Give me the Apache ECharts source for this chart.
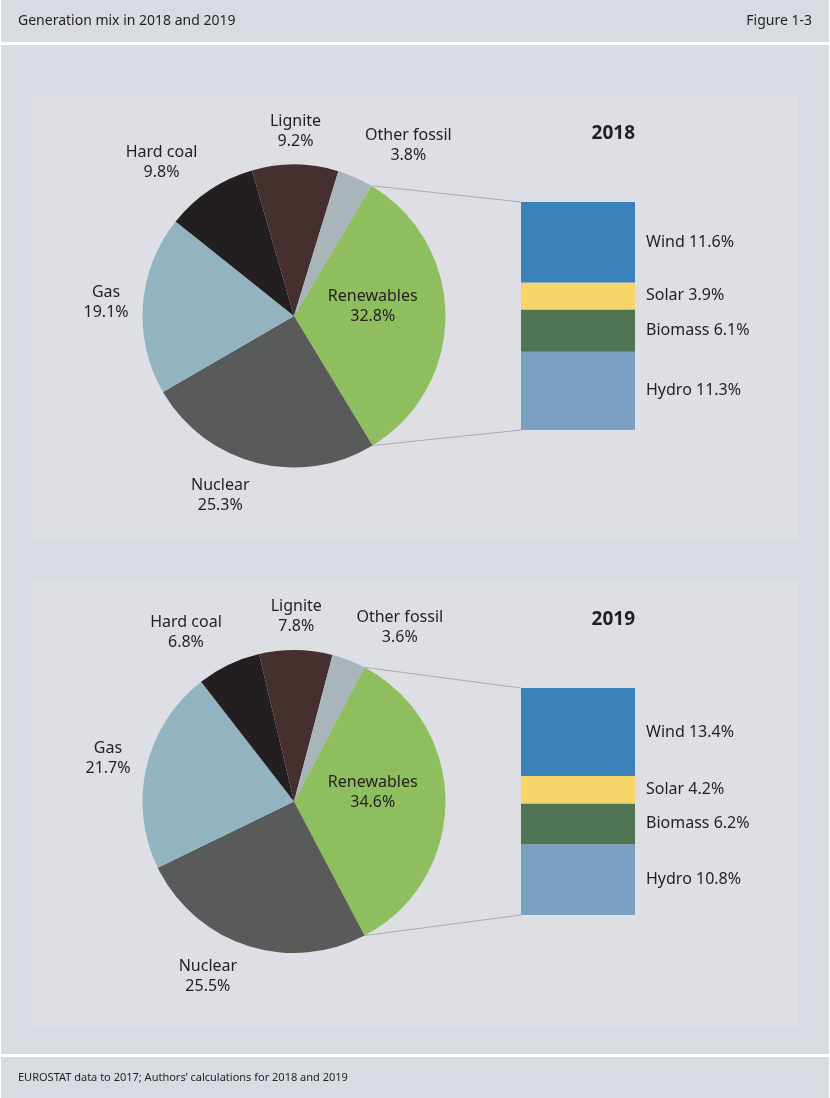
<!DOCTYPE html>
<html>
<head>
<meta charset="utf-8">
<title>Generation mix in 2018 and 2019</title>
<script src="https://cdn.jsdelivr.net/npm/echarts@6.0.0/dist/echarts.min.js"></script>
<style>
  html, body { margin: 0; padding: 0; background: #ffffff; }
  #main { width: 830px; height: 1098px; }
</style>
</head>
<body>
<div id="main"></div>
<script>
// data
var years = ['2018', '2019'];
var pieNames = ['Renewables', 'Nuclear', 'Gas', 'Hard coal', 'Lignite', 'Other fossil'];
var pie2018 = [32.8, 25.3, 19.1, 9.8, 9.2, 3.8];
var pie2019 = [34.6, 25.5, 21.7, 6.8, 7.8, 3.6];
// renewables breakdown, bottom -> top of the bar
var renewNames = ['Hydro', 'Biomass', 'Solar', 'Wind'];
var ren2018 = [11.3, 6.1, 3.9, 11.6];
var ren2019 = [10.8, 6.2, 4.2, 13.4];

// styles
var pieColors = ['#8fbe5f', '#595a5a', '#93b3c0', '#231f20', '#46302f', '#a9b4bb'];
var barColors = ['#7aa1c2', '#4f7555', '#f7d568', '#3b82bd'];
var FONT = '"Noto Sans", sans-serif';
var TXT = '#231f20';
var BG = '#d8dbe2';
var PANEL = '#dddfe4';

// layout
var R = 151.5;
var pieLayout = [
	{ center: [294, 316], start: 59.3 },
	{ center: [294, 801.5], start: 62.3 }
];
// small angular nudge (deg, clockwise) of each outside label off the slice middle
var labelShift = [0, 8, 0, -7, 0, 10];
var barLayout = [{ top: 202, height: 228 }, { top: 688, height: 227 }];
var BAR_LEFT = 521, BAR_W = 114;

var pieData = [pie2018, pie2019];
var renData = [ren2018, ren2019];

function sum(a) {
	var s = 0;
	for (var i = 0; i < a.length; i++) s += a[i];
	return s;
}

// put outside labels centred just beyond the slice edge
function makeLabelLayout(vals, c, start) {
	var total = sum(vals);
	return function (p) {
		if (p.dataIndex === 0) return;
		var before = 0;
		for (var i = 0; i < p.dataIndex; i++) before += vals[i];
		var deg = start - (before + vals[p.dataIndex] / 2) / total * 360 - labelShift[p.dataIndex];
		var mid = deg * Math.PI / 180;
		var dx = Math.cos(mid), dy = -Math.sin(mid);
		var w = p.labelRect.width, h = p.labelRect.height;
		var d = R + 13 + w / 2 * Math.abs(dx) + h / 2 * Math.abs(dy);
		return { x: c[0] + d * dx, y: c[1] + d * dy, align: 'center', verticalAlign: 'middle' };
	};
}

var series = [], grids = [], xAxes = [], yAxes = [], lines = [];

for (var y = 0; y < 2; y++) {
	var vals = pieData[y];
	var c = pieLayout[y].center;
	series.push({
		type: 'pie',
		center: c,
		radius: R,
		startAngle: pieLayout[y].start,
		clockwise: true,
		avoidLabelOverlap: false,
		silent: true,
		animation: false,
		data: pieNames.map(function (n, i) {
			var d = { name: n, value: vals[i], itemStyle: { color: pieColors[i] } };
			if (i === 0) d.label = { position: 'inside', offset: [0, -9] };
			return d;
		}),
		label: {
			show: true,
			position: 'outside',
			formatter: '{b}\n{c}%',
			color: TXT,
			fontFamily: FONT,
			fontSize: 16,
			lineHeight: 20
		},
		labelLine: { show: false },
		labelLayout: makeLabelLayout(vals, c, pieLayout[y].start)
	});

	var rv = renData[y];
	var bl = barLayout[y];
	grids.push({ left: BAR_LEFT, width: BAR_W, top: bl.top, height: bl.height });
	xAxes.push({ gridIndex: y, type: 'category', data: [years[y]], show: false });
	yAxes.push({ gridIndex: y, type: 'value', min: 0, max: sum(rv), show: false });
	for (var k = 0; k < renewNames.length; k++) {
		series.push({
			type: 'bar',
			name: renewNames[k],
			xAxisIndex: y,
			yAxisIndex: y,
			stack: 'ren' + y,
			barWidth: '100%',
			silent: true,
			animation: false,
			data: [rv[k]],
			itemStyle: { color: barColors[k] },
			label: {
				show: true,
				position: 'right',
				distance: 11,
				formatter: '{a} {c}%',
				color: TXT,
				fontFamily: FONT,
				fontSize: 16
			}
		});
	}

	// connector lines: renewables slice edges -> bar corners (axis spans the whole grid)
	var a0 = pieLayout[y].start * Math.PI / 180;
	var a1 = (pieLayout[y].start - vals[0] / sum(vals) * 360) * Math.PI / 180;
	lines.push({ type: 'line', shape: { x1: c[0] + R * Math.cos(a0), y1: c[1] - R * Math.sin(a0), x2: BAR_LEFT, y2: bl.top }, style: { stroke: '#a9adb3', lineWidth: 1 }, z: 1 });
	lines.push({ type: 'line', shape: { x1: c[0] + R * Math.cos(a1), y1: c[1] - R * Math.sin(a1), x2: BAR_LEFT, y2: bl.top + bl.height }, style: { stroke: '#a9adb3', lineWidth: 1 }, z: 1 });
}

var graphics = [
	{ type: 'rect', shape: { x: 1, y: 0, width: 828, height: 42 }, style: { fill: BG }, z: 0 },
	{ type: 'rect', shape: { x: 1, y: 45, width: 828, height: 1009 }, style: { fill: BG }, z: 0 },
	{ type: 'rect', shape: { x: 1, y: 1057, width: 828, height: 41 }, style: { fill: BG }, z: 0 },
	{ type: 'rect', shape: { x: 32, y: 95, width: 766, height: 445 }, style: { fill: PANEL }, z: 0 },
	{ type: 'rect', shape: { x: 32, y: 580, width: 766, height: 448 }, style: { fill: PANEL }, z: 0 },
	{ type: 'text', x: 18, y: 21, style: { text: 'Generation mix in 2018 and 2019', fill: TXT, font: '14px ' + FONT, textVerticalAlign: 'middle' }, z: 1 },
	{ type: 'text', x: 812, y: 21, style: { text: 'Figure 1-3', fill: TXT, font: '14px ' + FONT, textAlign: 'right', textVerticalAlign: 'middle' }, z: 1 },
	{ type: 'text', x: 18, y: 1078, style: { text: 'EUROSTAT data to 2017; Authors\u2019 calculations for 2018 and 2019', fill: TXT, font: '11px ' + FONT, textVerticalAlign: 'middle' }, z: 1 },
	{ type: 'text', x: 635, y: 134, style: { text: years[0], fill: TXT, font: 'bold 19px ' + FONT, textAlign: 'right', textVerticalAlign: 'middle' }, z: 1 },
	{ type: 'text', x: 635, y: 620, style: { text: years[1], fill: TXT, font: 'bold 19px ' + FONT, textAlign: 'right', textVerticalAlign: 'middle' }, z: 1 }
].concat(lines);

var chart = echarts.init(document.getElementById('main'));
chart.setOption({
	animation: false,
	graphic: graphics,
	grid: grids,
	xAxis: xAxes,
	yAxis: yAxes,
	series: series
});
</script>
</body>
</html>
